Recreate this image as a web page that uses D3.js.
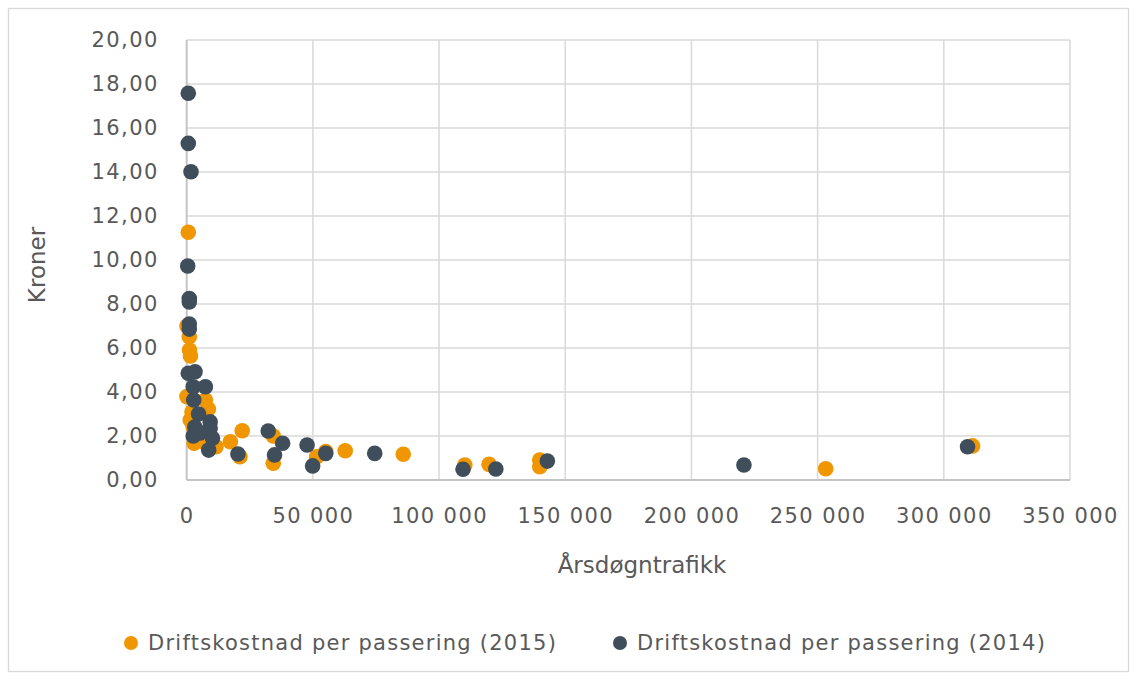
<!DOCTYPE html>
<html>
<head>
<meta charset="utf-8">
<script src="https://cdn.jsdelivr.net/npm/d3@7/dist/d3.min.js"></script>
<style>
html,body{margin:0;padding:0;background:#fff;}
svg{display:block;}
text{font-family:"DejaVu Sans",Verdana,sans-serif;fill:#595959;}
</style>
</head>
<body>
<svg id="chart" width="1137" height="680"></svg>
<script>
// Data
const seriesNames = ["Driftskostnad per passering (2015)", "Driftskostnad per passering (2014)"];
const xTicks = [0, 50000, 100000, 150000, 200000, 250000, 300000, 350000];
const yTicks = [0, 2, 4, 6, 8, 10, 12, 14, 16, 18, 20];

const adt2015 = [630, 100, 1030, 1100, 1500, 100, 7400, 8600, 1400, 2600, 2900, 11600, 17300, 22000, 21100, 34300, 34300, 51500, 55100, 62800, 85800, 110200, 119800, 139900, 139900, 253200, 311400, 2100, 7300];
const cost2015 = [11.26, 7.0, 6.51, 5.91, 5.64, 3.79, 3.64, 3.23, 2.73, 2.42, 1.67, 1.51, 1.74, 2.24, 1.06, 2.0, 0.76, 1.06, 1.29, 1.33, 1.17, 0.68, 0.71, 0.91, 0.60, 0.51, 1.55, 3.09, 1.68];

const adt2014 = [630, 630, 1700, 400, 1030, 1030, 1030, 1030, 630, 3300, 2600, 7400, 2800, 4700, 9300, 3200, 9300, 2600, 10200, 8700, 20300, 32300, 38000, 34800, 47700, 49900, 55100, 74500, 109500, 122500, 142900, 220800, 309400, 5300];
const cost2014 = [17.58, 15.30, 14.01, 9.73, 8.25, 8.09, 7.09, 6.86, 4.85, 4.92, 4.24, 4.24, 3.64, 3.0, 2.64, 2.41, 2.35, 2.0, 1.90, 1.36, 1.18, 2.23, 1.67, 1.14, 1.59, 0.64, 1.21, 1.21, 0.49, 0.50, 0.86, 0.68, 1.51, 2.14];

const colors = ["#F09600", "#3F4E5A"];

const svg = d3.select("#chart");
const plot = {left: 186.7, right: 1070, top: 40, bottom: 480};

svg.append("rect").attr("x", 8.5).attr("y", 8.5).attr("width", 1120).attr("height", 663)
  .attr("fill", "#fff").attr("stroke", "#d9d9d9").attr("stroke-width", 1.3);

const x = d3.scaleLinear().domain([0, 350000]).range([plot.left, plot.right]);
const y = d3.scaleLinear().domain([0, 20]).range([plot.bottom, plot.top]);

const fmtX = v => d3.format(",")(v).replace(/,/g, " ");
const fmtY = v => v.toFixed(2).replace(".", ",");

// grid
const g = svg.append("g");
g.selectAll(".hg").data(yTicks.filter(d => d > 0)).enter().append("line")
  .attr("x1", plot.left).attr("x2", plot.right)
  .attr("y1", d => y(d)).attr("y2", d => y(d))
  .attr("stroke", "#d9d9d9").attr("stroke-width", 1.5);
g.selectAll(".vg").data(xTicks.filter(d => d > 0)).enter().append("line")
  .attr("y1", plot.top).attr("y2", plot.bottom)
  .attr("x1", d => x(d)).attr("x2", d => x(d))
  .attr("stroke", "#d9d9d9").attr("stroke-width", 1.5);

// axes lines
svg.append("line").attr("x1", plot.left).attr("x2", plot.left).attr("y1", plot.top).attr("y2", plot.bottom)
  .attr("stroke", "#c4c4c4").attr("stroke-width", 2);
svg.append("line").attr("x1", plot.left).attr("x2", plot.right).attr("y1", plot.bottom).attr("y2", plot.bottom)
  .attr("stroke", "#c4c4c4").attr("stroke-width", 2);

// axis labels via d3 axes (domain/tick lines hidden)
const yAxis = d3.axisLeft(y).tickValues(yTicks).tickFormat(fmtY).tickSize(0).tickPadding(28);
const ya = svg.append("g").attr("transform", `translate(${plot.left},0)`).call(yAxis);
ya.select(".domain").remove();
ya.selectAll("text").attr("font-size", 21).attr("letter-spacing", 1.4).attr("fill", "#595959").attr("font-family", "DejaVu Sans");

const xAxis = d3.axisBottom(x).tickValues(xTicks).tickFormat(fmtX).tickSize(0).tickPadding(28);
const xa = svg.append("g").attr("transform", `translate(0,${plot.bottom})`).call(xAxis);
xa.select(".domain").remove();
xa.selectAll("text").attr("font-size", 21).attr("letter-spacing", 1.4).attr("fill", "#595959").attr("font-family", "DejaVu Sans");

// titles
svg.append("text").attr("x", 642).attr("y", 573)
  .attr("text-anchor", "middle").attr("font-size", 23).text("Årsdøgntrafikk");
svg.append("text").attr("transform", `translate(45,265) rotate(-90)`)
  .attr("text-anchor", "middle").attr("font-size", 23).text("Kroner");

// points
const series = [
  {xs: adt2015, ys: cost2015, c: colors[0]},
  {xs: adt2014, ys: cost2014, c: colors[1]}
];
series.forEach(s => {
  svg.append("g").selectAll("circle").data(s.xs.map((v, i) => [v, s.ys[i]])).enter()
    .append("circle").attr("cx", d => x(d[0])).attr("cy", d => y(d[1])).attr("r", 7.8)
    .attr("fill", s.c);
});

// legend
const legX = [131, 620];
seriesNames.forEach((n, i) => {
  svg.append("circle").attr("cx", legX[i]).attr("cy", 643).attr("r", 7).attr("fill", colors[i]);
  svg.append("text").attr("x", legX[i] + 17).attr("y", 650).attr("font-size", 21).attr("letter-spacing", 1.25).text(n);
});
</script>
</body>
</html>
